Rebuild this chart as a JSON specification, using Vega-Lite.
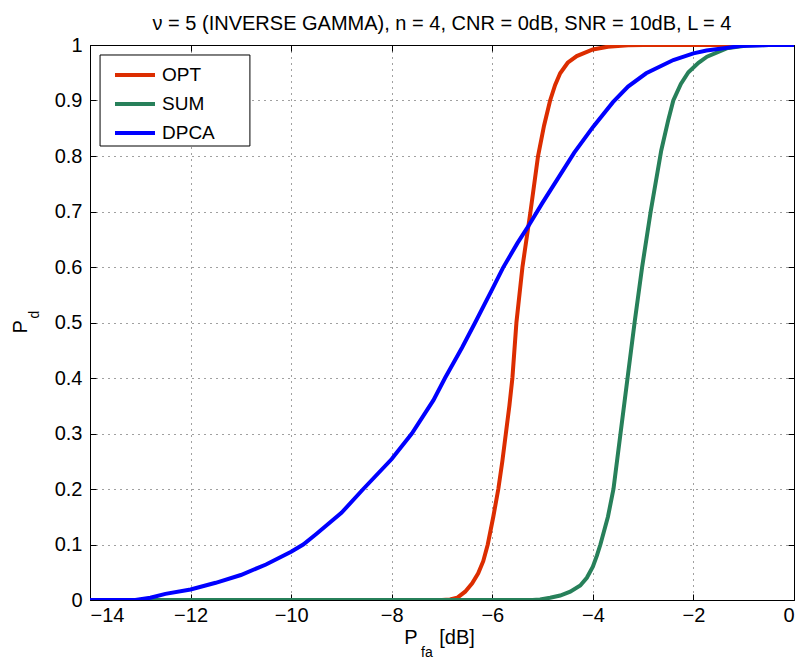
{
  "$schema": "https://vega.github.io/schema/vega-lite/v6.json",
  "width": 704,
  "height": 555,
  "autosize": {"type": "none"},
  "padding": {"left": 90, "top": 45, "right": 9, "bottom": 67},
  "config": {
    "view": {"stroke": "#000", "strokeWidth": 1},
    "font": "Liberation Sans",
    "axis": {
      "grid": true,
      "gridColor": "#000",
      "gridOpacity": 0.75,
      "gridDash": [1, 5],
      "domain": false,
      "tickColor": "#000",
      "tickSize": -6,
      "labelFontSize": 20,
      "labelColor": "#000",
      "labelFont": "Liberation Sans",
      "title": null
    }
  },
  "title": {
    "text": "ν = 5 (INVERSE GAMMA), n = 4, CNR = 0dB, SNR = 10dB, L = 4",
    "fontSize": 20,
    "fontWeight": "normal",
    "font": "Liberation Sans",
    "color": "#000",
    "anchor": "middle",
    "offset": 1
  },
  "resolve": {"axis": {"x": "independent", "y": "independent"}},
  "datasets": {
    "curves": [
      {"series": "OPT", "pfa": -14, "pd": 0},
      {"series": "OPT", "pfa": -7.0, "pd": 0},
      {"series": "OPT", "pfa": -6.84, "pd": 0.001},
      {"series": "OPT", "pfa": -6.7, "pd": 0.004},
      {"series": "OPT", "pfa": -6.54, "pd": 0.015},
      {"series": "OPT", "pfa": -6.4, "pd": 0.03},
      {"series": "OPT", "pfa": -6.28, "pd": 0.048},
      {"series": "OPT", "pfa": -6.18, "pd": 0.07},
      {"series": "OPT", "pfa": -6.09, "pd": 0.1},
      {"series": "OPT", "pfa": -5.98, "pd": 0.15},
      {"series": "OPT", "pfa": -5.88, "pd": 0.2},
      {"series": "OPT", "pfa": -5.8, "pd": 0.25},
      {"series": "OPT", "pfa": -5.73, "pd": 0.3},
      {"series": "OPT", "pfa": -5.66, "pd": 0.35},
      {"series": "OPT", "pfa": -5.6, "pd": 0.4},
      {"series": "OPT", "pfa": -5.52, "pd": 0.5},
      {"series": "OPT", "pfa": -5.4, "pd": 0.6},
      {"series": "OPT", "pfa": -5.24, "pd": 0.7},
      {"series": "OPT", "pfa": -5.09, "pd": 0.8},
      {"series": "OPT", "pfa": -4.97, "pd": 0.855},
      {"series": "OPT", "pfa": -4.85, "pd": 0.9},
      {"series": "OPT", "pfa": -4.75, "pd": 0.928},
      {"series": "OPT", "pfa": -4.65, "pd": 0.949},
      {"series": "OPT", "pfa": -4.5, "pd": 0.968},
      {"series": "OPT", "pfa": -4.32, "pd": 0.98},
      {"series": "OPT", "pfa": -4.0, "pd": 0.992},
      {"series": "OPT", "pfa": -3.7, "pd": 0.997},
      {"series": "OPT", "pfa": -3.3, "pd": 0.9995},
      {"series": "OPT", "pfa": -3.0, "pd": 1},
      {"series": "OPT", "pfa": 0, "pd": 1},
      {"series": "SUM", "pfa": -14, "pd": 0},
      {"series": "SUM", "pfa": -5.2, "pd": 0},
      {"series": "SUM", "pfa": -5.05, "pd": 0.001},
      {"series": "SUM", "pfa": -4.85, "pd": 0.004},
      {"series": "SUM", "pfa": -4.65, "pd": 0.008},
      {"series": "SUM", "pfa": -4.45, "pd": 0.015},
      {"series": "SUM", "pfa": -4.25, "pd": 0.026},
      {"series": "SUM", "pfa": -4.12, "pd": 0.04},
      {"series": "SUM", "pfa": -4.0, "pd": 0.06},
      {"series": "SUM", "pfa": -3.92, "pd": 0.08},
      {"series": "SUM", "pfa": -3.85, "pd": 0.1},
      {"series": "SUM", "pfa": -3.7, "pd": 0.15},
      {"series": "SUM", "pfa": -3.59, "pd": 0.2},
      {"series": "SUM", "pfa": -3.45, "pd": 0.3},
      {"series": "SUM", "pfa": -3.31, "pd": 0.4},
      {"series": "SUM", "pfa": -3.17, "pd": 0.5},
      {"series": "SUM", "pfa": -3.02, "pd": 0.6},
      {"series": "SUM", "pfa": -2.85, "pd": 0.7},
      {"series": "SUM", "pfa": -2.64, "pd": 0.81},
      {"series": "SUM", "pfa": -2.5, "pd": 0.865},
      {"series": "SUM", "pfa": -2.4, "pd": 0.9},
      {"series": "SUM", "pfa": -2.25, "pd": 0.93},
      {"series": "SUM", "pfa": -2.1, "pd": 0.951},
      {"series": "SUM", "pfa": -1.9, "pd": 0.968},
      {"series": "SUM", "pfa": -1.73, "pd": 0.979},
      {"series": "SUM", "pfa": -1.34, "pd": 0.994},
      {"series": "SUM", "pfa": -0.94, "pd": 0.999},
      {"series": "SUM", "pfa": -0.5, "pd": 1},
      {"series": "SUM", "pfa": 0, "pd": 1},
      {"series": "DPCA", "pfa": -14, "pd": 0},
      {"series": "DPCA", "pfa": -13.1, "pd": 0},
      {"series": "DPCA", "pfa": -12.8, "pd": 0.004},
      {"series": "DPCA", "pfa": -12.5, "pd": 0.011},
      {"series": "DPCA", "pfa": -12.0, "pd": 0.019},
      {"series": "DPCA", "pfa": -11.5, "pd": 0.031},
      {"series": "DPCA", "pfa": -11.0, "pd": 0.045},
      {"series": "DPCA", "pfa": -10.5, "pd": 0.064},
      {"series": "DPCA", "pfa": -10.0, "pd": 0.087},
      {"series": "DPCA", "pfa": -9.76, "pd": 0.1},
      {"series": "DPCA", "pfa": -9.5, "pd": 0.119},
      {"series": "DPCA", "pfa": -9.0, "pd": 0.157},
      {"series": "DPCA", "pfa": -8.565, "pd": 0.2},
      {"series": "DPCA", "pfa": -8.0, "pd": 0.254},
      {"series": "DPCA", "pfa": -7.6, "pd": 0.3},
      {"series": "DPCA", "pfa": -7.17, "pd": 0.36},
      {"series": "DPCA", "pfa": -6.94, "pd": 0.4},
      {"series": "DPCA", "pfa": -6.6, "pd": 0.455},
      {"series": "DPCA", "pfa": -6.34, "pd": 0.5},
      {"series": "DPCA", "pfa": -6.0, "pd": 0.56},
      {"series": "DPCA", "pfa": -5.79, "pd": 0.598},
      {"series": "DPCA", "pfa": -5.5, "pd": 0.643},
      {"series": "DPCA", "pfa": -5.26, "pd": 0.677},
      {"series": "DPCA", "pfa": -5.0, "pd": 0.716},
      {"series": "DPCA", "pfa": -4.65, "pd": 0.766},
      {"series": "DPCA", "pfa": -4.37, "pd": 0.806},
      {"series": "DPCA", "pfa": -4.0, "pd": 0.852},
      {"series": "DPCA", "pfa": -3.6, "pd": 0.897},
      {"series": "DPCA", "pfa": -3.3, "pd": 0.925},
      {"series": "DPCA", "pfa": -2.94, "pd": 0.949},
      {"series": "DPCA", "pfa": -2.4, "pd": 0.973},
      {"series": "DPCA", "pfa": -2.0, "pd": 0.985},
      {"series": "DPCA", "pfa": -1.74, "pd": 0.99},
      {"series": "DPCA", "pfa": -1.07, "pd": 0.998},
      {"series": "DPCA", "pfa": -0.5, "pd": 1},
      {"series": "DPCA", "pfa": 0, "pd": 1}
    ],
    "one": [{}]
  },
  "layer": [
    {
      "data": {"name": "curves"},
      "mark": {"type": "line", "strokeWidth": 4, "clip": true},
      "encoding": {
        "x": {
          "field": "pfa",
          "type": "quantitative",
          "scale": {"domain": [-14, 0], "nice": false, "zero": false},
          "axis": {"values": [-14, -12, -10, -8, -6, -4, -2, 0], "labelPadding": 11, "grid": true}
        },
        "y": {
          "field": "pd",
          "type": "quantitative",
          "scale": {"domain": [0, 1], "nice": false},
          "axis": {"values": [0, 0.1, 0.2, 0.3, 0.4, 0.5, 0.6, 0.7, 0.8, 0.9, 1], "format": ".1~f", "labelPadding": 14, "grid": true}
        },
        "color": {
          "field": "series",
          "type": "nominal",
          "scale": {"domain": ["OPT", "SUM", "DPCA"], "range": ["#dc2d00", "#27805a", "#0000ff"]},
          "legend": {
            "orient": "none",
            "legendX": 10,
            "legendY": 12,
            "title": null,
            "padding": 6,
            "symbolType": "M-2,0H2",
            "symbolStrokeWidth": 4,
            "symbolSize": 400,
            "symbolOffset": 17,
            "labelFontSize": 19,
            "labelFont": "Liberation Sans",
            "labelColor": "#000",
            "labelOffset": 15,
            "rowPadding": 7
          }
        },
        "order": {"field": "pfa", "type": "quantitative"}
      }
    },
    {
      "data": {"name": "one"},
      "mark": {"type": "rect", "fill": "#fff", "stroke": "#000", "strokeWidth": 1, "clip": false},
      "encoding": {
        "x": {"datum": -13.8, "type": "quantitative", "axis": null},
        "x2": {"datum": -10.82},
        "y": {"datum": 0.982, "type": "quantitative", "axis": null},
        "y2": {"datum": 0.818}
      }
    },
    {
      "data": {"name": "one"},
      "mark": {"type": "point", "opacity": 0, "clip": true},
      "encoding": {
        "x": {"datum": -7, "type": "quantitative", "scale": {"domain": [-14, 0], "nice": false, "zero": false},
          "axis": {"orient": "top", "values": [-14, -12, -10, -8, -6, -4, -2, 0], "labels": false, "grid": false}},
        "y": {"datum": 0.5, "type": "quantitative", "scale": {"domain": [0, 1], "nice": false},
          "axis": {"orient": "right", "values": [0, 0.1, 0.2, 0.3, 0.4, 0.5, 0.6, 0.7, 0.8, 0.9, 1], "labels": false, "grid": false}}
      }
    },
    {
      "data": {"name": "one"},
      "mark": {"type": "text", "fontSize": 20, "font": "Liberation Sans", "color": "#000", "align": "center", "baseline": "middle", "clip": false},
      "encoding": {
        "x": {"datum": -7.62, "type": "quantitative", "axis": null},
        "y": {"datum": -0.068, "type": "quantitative", "axis": null},
        "text": {"value": "P"}
      }
    },
    {
      "data": {"name": "one"},
      "mark": {"type": "text", "fontSize": 14, "font": "Liberation Sans", "color": "#000", "align": "center", "baseline": "middle", "clip": false},
      "encoding": {
        "x": {"datum": -7.3, "type": "quantitative", "axis": null},
        "y": {"datum": -0.095, "type": "quantitative", "axis": null},
        "text": {"value": "fa"}
      }
    },
    {
      "data": {"name": "one"},
      "mark": {"type": "text", "fontSize": 20, "font": "Liberation Sans", "color": "#000", "align": "center", "baseline": "middle", "clip": false},
      "encoding": {
        "x": {"datum": -6.7, "type": "quantitative", "axis": null},
        "y": {"datum": -0.068, "type": "quantitative", "axis": null},
        "text": {"value": "[dB]"}
      }
    },
    {
      "data": {"name": "one"},
      "mark": {"type": "text", "fontSize": 20, "font": "Liberation Sans", "color": "#000", "align": "center", "baseline": "middle", "angle": 270, "clip": false},
      "encoding": {
        "x": {"datum": -15.37, "type": "quantitative", "axis": null},
        "y": {"datum": 0.492, "type": "quantitative", "axis": null},
        "text": {"value": "P"}
      }
    },
    {
      "data": {"name": "one"},
      "mark": {"type": "text", "fontSize": 14, "font": "Liberation Sans", "color": "#000", "align": "center", "baseline": "middle", "angle": 270, "clip": false},
      "encoding": {
        "x": {"datum": -15.09, "type": "quantitative", "axis": null},
        "y": {"datum": 0.514, "type": "quantitative", "axis": null},
        "text": {"value": "d"}
      }
    }
  ]
}
